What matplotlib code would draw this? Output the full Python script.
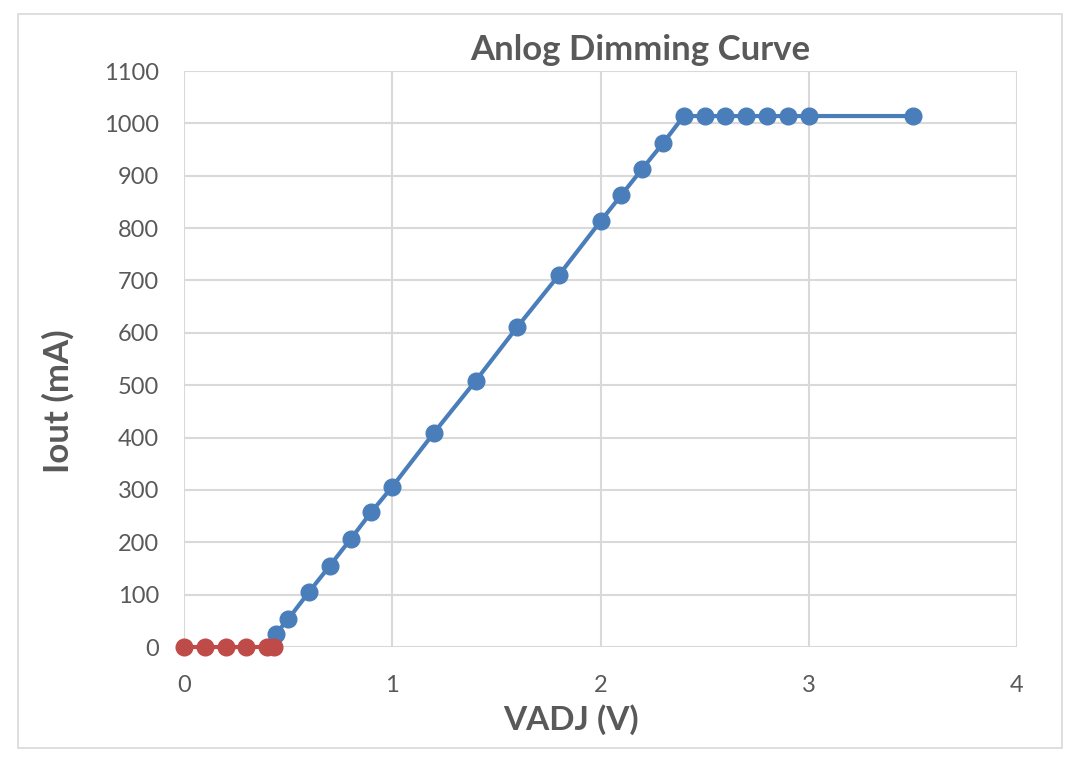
import matplotlib
matplotlib.use('Agg')
import matplotlib.pyplot as plt
from matplotlib.patches import Rectangle

# data
vadj_on = [0.44, 0.5, 0.6, 0.7, 0.8, 0.9, 1.0, 1.2, 1.4, 1.6, 1.8, 2.0, 2.1, 2.2, 2.3,
           2.4, 2.5, 2.6, 2.7, 2.8, 2.9, 3.0, 3.5]
iout_on = [25, 53, 105, 155, 206, 258, 306, 409, 508, 611, 710, 813, 863, 913, 962,
           1014, 1014, 1014, 1014, 1014, 1014, 1014, 1014]
vadj_off = [0, 0.1, 0.2, 0.3, 0.4, 0.43]
iout_off = [0, 0, 0, 0, 0, 0]

plt.rcParams['font.family'] = ['Lato', 'DejaVu Sans']

fig = plt.figure(figsize=(10.8, 7.62), dpi=100)
ax = fig.add_axes([184/1080, 1 - 647/762, (1017-184)/1080, (647-71)/762])

blue = '#4a7ebb'
red = '#be4b48'
ax.plot(vadj_on, iout_on, color=blue, lw=3, marker='o', ms=12, zorder=3)
ax.plot(vadj_off, iout_off, color=red, lw=3, marker='o', ms=12, zorder=4, clip_on=False)

ax.set_xlim(0, 4)
ax.set_ylim(0, 1100)
ax.set_xticks(range(0, 5))
ax.set_yticks(range(0, 1101, 100))
ax.grid(True, color='#d9d9d9', lw=1.5)
ax.set_axisbelow(True)
for s in ax.spines.values():
    s.set_visible(False)
ax.tick_params(length=0, labelsize=17, colors='#595959')
ax.tick_params(axis='y', pad=18)
ax.tick_params(axis='x', pad=20)

ax.set_xlabel('VADJ (V)', fontsize=24, fontweight='bold', color='#595959')
ax.set_ylabel('Iout (mA)', fontsize=25, fontweight='bold', color='#595959')
# label centres as placed in the picture (not centred on the axes)
ax.xaxis.set_label_coords((571 - 184) / 833, -(720 - 647) / 576)
ax.yaxis.set_label_coords(-(184 - 58) / 833, (647 - 401) / 576)
ax.xaxis.label.set_va('center')
ax.yaxis.label.set_va('center')
fig.text(640/1080, 1 - 50/762, 'Anlog Dimming Curve', fontsize=25, fontweight='bold',
         color='#595959', ha='center', va='center')

# outer chart border
fig.patches.append(Rectangle((18/1080, 1 - 748/762), (1062-18)/1080, (748-14)/762,
                             transform=fig.transFigure, fill=False, ec='#d9d9d9', lw=1.2))

fig.savefig('out.png', dpi=100)
